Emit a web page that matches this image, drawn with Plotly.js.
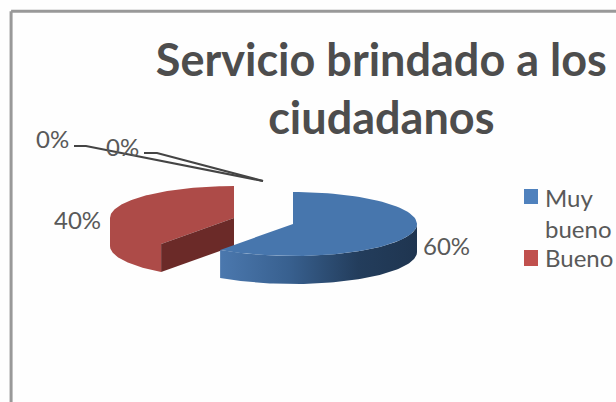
<!DOCTYPE html>
<html><head><meta charset="utf-8">
<script src="https://cdn.plot.ly/plotly-3.0.1.min.js"></script>
<style>html,body{margin:0;padding:0;background:#fefefe}</style></head>
<body><div id="chart" style="width:616px;height:402px"></div>
<script>
const titleText = "Servicio brindado a los<br>ciudadanos";
const categories = ["Muy bueno", "Bueno", "Regular", "Malo"];
const legendLines = [["Muy", "bueno"], ["Bueno"]];
const values = [60, 40, 0, 0];
const colors = ["#4f81bd", "#c0504d"];

// 3-D projection settings (pixel space of the hidden axes)
const RX = 124, RY = 32, DEPTH = 28;
const CENTERS = [[293, 224], [234, 218]];
const total = values.reduce((a, b) => a + b, 0);

function arc(c, a0, a1, dy) {
  const pts = [], n = 80;
  for (let i = 0; i <= n; i++) {
    const t = (a0 + (a1 - a0) * i / n) * Math.PI / 180;
    pts.push([c[0] + RX * Math.sin(t), c[1] - RY * Math.cos(t) + dy]);
  }
  return pts;
}
function poly(pts, extra) {
  return Object.assign({
    x: pts.map(p => p[0]).concat(pts[0][0]),
    y: pts.map(p => p[1]).concat(pts[0][1]),
    mode: "lines", line: {width: 0}, fill: "toself",
    hoverinfo: "skip", showlegend: false
  }, extra);
}
const a0 = 0, a1 = values[0] / total * 360, a2 = 360;
const cB = CENTERS[0], cR = CENTERS[1];
const traces = [];

// red slice: outer wall and top face as one outline, then the dark cut face
traces.push(poly([cR].concat(arc(cR, a1, a1, 0).slice(0, 1), arc(cR, a1, 270, DEPTH), arc(cR, 270, a2, 0)), {fillcolor: "#ad4b48"}));
const redTip = arc(cR, a1, a1, 0)[0];
traces.push(poly([cR, redTip, [redTip[0], redTip[1] + DEPTH], [cR[0], cR[1] + DEPTH]], {fillcolor: "#6b2a28"}));

// blue slice
traces.push(poly(arc(cB, 90, a1, 0).concat(arc(cB, a1, 90, DEPTH)), {
  fillgradient: {type: "horizontal", colorscale: [[0, "#4b78ae"], [0.35, "#38608f"], [0.7, "#233d5c"], [1, "#1f3550"]]}
}));
traces.push(poly([cB].concat(arc(cB, a0, a1, 0)), {fillcolor: "#4776ad"}));

// leader lines of the two zero slices
const leaders = [
  {x: [74, 86, 263], y: [146, 146, 181]},
  {x: [144, 157, 263], y: [153, 153, 181]}
];
leaders.forEach(l => traces.push({x: l.x, y: l.y, mode: "lines", line: {color: "#444", width: 2},
  hoverinfo: "skip", showlegend: false}));

const labelPos = [[446, 245], [77, 219], [122, 146], [52, 138]];
const annotations = values.map((v, i) => ({
  x: labelPos[i][0], y: labelPos[i][1], xref: "x", yref: "y", showarrow: false,
  text: Math.round(v / total * 100) + "%",
  font: {family: "Lato, sans-serif", size: 24, color: "#595959"}
}));

// legend drawn by hand: Plotly's own legend cannot set the swatch-to-text gap
const legendTextY = [[197, 228], [257]];
const swatches = [[189, 204], [250, 266]];
legendLines.forEach((lines, i) => lines.forEach((t, j) => annotations.push({
  x: 543, y: legendTextY[i][j], xref: "x", yref: "y", xanchor: "left", showarrow: false, text: t,
  font: {family: "Lato, sans-serif", size: 24, color: "#595959"}
})));
const shapes = swatches.map((s, i) => ({type: "rect", xref: "x", yref: "y", x0: 524, x1: 538, y0: s[0], y1: s[1],
  fillcolor: colors[i], line: {width: 0}}));
shapes.push(
  {type: "line", xref: "paper", yref: "paper", x0: 0.018, x1: 1, y0: 0.972, y1: 0.972, line: {color: "#999", width: 3}},
  {type: "line", xref: "paper", yref: "paper", x0: 0.018, x1: 0.018, y0: 0, y1: 0.972, line: {color: "#999", width: 3}}
);

Plotly.newPlot("chart", traces, {
  width: 616, height: 402,
  margin: {l: 0, r: 0, t: 0, b: 0},
  paper_bgcolor: "#fefefe", plot_bgcolor: "rgba(0,0,0,0)",
  title: {text: titleText, x: 0.619, xanchor: "center", y: 0.812, yanchor: "top",
    font: {family: "Lato, sans-serif", size: 45, color: "#4d4d4d", weight: 700}},
  xaxis: {visible: false, range: [0, 616], fixedrange: true},
  yaxis: {visible: false, range: [402, 0], fixedrange: true},
  showlegend: false,
  annotations: annotations,
  shapes: shapes
}, {displayModeBar: false, staticPlot: true});
</script></body></html>
